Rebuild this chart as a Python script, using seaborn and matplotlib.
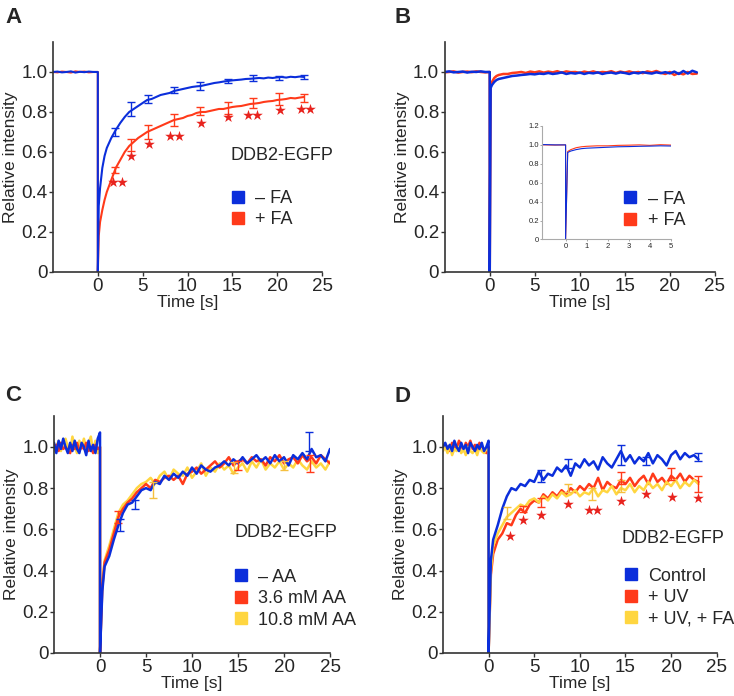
import numpy as np
import pandas as pd
import matplotlib
matplotlib.use('Agg')
import matplotlib.pyplot as plt
from matplotlib.lines import Line2D
import seaborn as sns

# colours
BLUE = '#0B2EDB'
RED = '#FF3A1A'
YELLOW = '#FFD640'
STAR = '#E8231E'

# ---------------- data: panel A / B (pre-bleach every 0.5 s) ----------------
t_ab_pre = np.arange(-5, 0.01, 0.5)
t_ab_post = np.concatenate([[0, 0.1, 0.25, 0.5, 0.75], np.arange(1, 23.01, 0.5)])

a_blue_pre = [1.0, 1.002, 0.998, 1.0, 1.003, 0.997, 1.001, 0.999, 1.002, 1.0, 1.0]
a_blue_post = [0.0, 0.33, 0.42, 0.52, 0.58,
               0.62, 0.67, 0.71, 0.745, 0.775, 0.80, 0.815, 0.83, 0.845, 0.86,
               0.865, 0.875, 0.885, 0.89, 0.895, 0.905, 0.91, 0.915, 0.92, 0.925,
               0.928, 0.93, 0.935, 0.94, 0.945, 0.948, 0.952, 0.955, 0.958, 0.96,
               0.962, 0.965, 0.966, 0.968, 0.97, 0.968, 0.972, 0.97, 0.973, 0.975,
               0.972, 0.976, 0.974, 0.977, 0.975]
a_red_pre = [1.0, 0.998, 1.002, 1.0, 0.997, 1.003, 1.0, 1.002, 0.998, 1.0, 1.0]
a_red_post = [0.0, 0.18, 0.25, 0.31, 0.36,
              0.40, 0.46, 0.52, 0.56, 0.60, 0.63, 0.65, 0.67, 0.685, 0.70,
              0.71, 0.72, 0.73, 0.74, 0.75, 0.76, 0.765, 0.77, 0.78, 0.785,
              0.795, 0.80, 0.80, 0.805, 0.81, 0.815, 0.815, 0.82, 0.825, 0.828,
              0.83, 0.835, 0.84, 0.842, 0.845, 0.85, 0.853, 0.855, 0.86, 0.862,
              0.865, 0.87, 0.868, 0.872, 0.875]

a_err_t = [1.9, 3.75, 5.6, 8.5, 11.4, 14.5, 17.3, 20.2, 23.0]
a_blue_err_y = [0.70, 0.815, 0.865, 0.91, 0.93, 0.955, 0.97, 0.97, 0.975]
a_blue_err = [0.02, 0.035, 0.02, 0.015, 0.02, 0.01, 0.015, 0.01, 0.008]
a_red_err_y = [0.51, 0.635, 0.70, 0.76, 0.805, 0.82, 0.845, 0.865, 0.87]
a_red_err = [0.015, 0.03, 0.035, 0.03, 0.02, 0.03, 0.025, 0.03, 0.02]

a_star_x = [1.71, 2.75, 3.68, 5.69, 8.1, 9.04, 11.46, 14.5, 16.8, 17.7, 20.3, 22.7, 23.7]
a_star_y = [0.449, 0.449, 0.578, 0.64, 0.68, 0.68, 0.743, 0.773, 0.786, 0.786, 0.81, 0.815, 0.815]

b_blue_pre = [1.0, 1.003, 0.998, 1.0, 1.002, 0.997, 1.001, 1.0, 1.003, 1.0, 1.0]
b_blue_post = [0.0, 0.92, 0.935, 0.95, 0.96,
               0.965, 0.97, 0.975, 0.98, 0.982, 0.985, 0.987, 0.99, 0.988, 0.992,
               0.99, 0.995, 0.99, 0.993, 0.998, 0.99, 0.995, 0.992, 0.997, 0.99,
               0.996, 0.993, 0.998, 0.99, 0.995, 0.997, 0.992, 0.998, 0.995, 0.99,
               0.997, 0.993, 0.999, 0.995, 0.992, 0.998, 0.994, 0.999, 0.993, 1.002,
               0.99, 1.005, 0.992, 1.006, 0.998]
b_red_pre = [0.998, 1.0, 1.003, 0.997, 1.0, 1.002, 0.999, 1.003, 1.0, 0.998, 1.0]
b_red_post = [0.0, 0.93, 0.95, 0.97, 0.98,
              0.985, 0.99, 0.99, 0.995, 0.997, 1.0, 0.995, 1.002, 0.998, 1.003,
              0.997, 1.002, 0.998, 1.004, 0.996, 1.003, 0.999, 1.0, 0.995, 1.002,
              0.997, 1.003, 0.996, 1.0, 0.998, 1.004, 0.995, 1.002, 0.997, 1.003,
              0.996, 1.0, 0.994, 1.003, 0.998, 1.005, 0.996, 0.99, 1.0, 0.985,
              0.995, 0.988, 1.0, 0.99, 0.992]

# ---------------- data: panel C ----------------
t_c_pre = np.arange(-5, 0.01, 0.25)
t_c_post = np.concatenate([[0, 0.25], np.arange(0.5, 25.01, 0.5)])

c_blue_pre = [1.02, 0.97, 1.03, 0.99, 1.04, 1.0, 0.97, 1.02, 0.98, 1.03, 0.99,
              0.97, 1.02, 1.0, 0.96, 1.03, 0.98, 1.01, 0.97, 1.04, 1.07]
c_red_pre = [1.0, 1.01, 0.98, 1.02, 0.99, 1.0, 0.98, 0.97, 1.01, 0.99, 1.02,
             0.98, 1.0, 0.99, 1.02, 0.98, 1.0, 0.97, 1.01, 0.99, 1.0]
c_yellow_pre = [0.98, 1.0, 1.03, 0.98, 1.02, 1.04, 1.0, 0.98, 1.05, 1.0, 0.97,
                1.03, 1.0, 1.04, 0.99, 1.02, 1.05, 0.98, 1.03, 0.97, 1.0]
c_blue_post = [0.0, 0.30,
               0.42, 0.47, 0.55, 0.62, 0.68, 0.72, 0.73, 0.76, 0.79, 0.80,
               0.79, 0.83, 0.82, 0.86, 0.84, 0.87, 0.85, 0.88, 0.86, 0.90,
               0.87, 0.91, 0.89, 0.88, 0.90, 0.91, 0.93, 0.91, 0.94, 0.92,
               0.95, 0.92, 0.94, 0.96, 0.93, 0.95, 0.92, 0.96, 0.93, 0.95,
               0.91, 0.96, 0.94, 0.97, 0.94, 0.99, 0.95, 0.96, 0.93, 0.99]
c_red_post = [0.0, 0.32,
              0.44, 0.50, 0.58, 0.66, 0.70, 0.73, 0.75, 0.78, 0.80, 0.82,
              0.80, 0.84, 0.83, 0.85, 0.86, 0.84, 0.86, 0.82, 0.87, 0.88,
              0.90, 0.87, 0.89, 0.91, 0.93, 0.90, 0.92, 0.95, 0.91, 0.93,
              0.94, 0.92, 0.95, 0.93, 0.94, 0.91, 0.95, 0.93, 0.96, 0.92,
              0.94, 0.95, 0.92, 0.96, 0.93, 0.95, 0.92, 0.96, 0.94, 0.92]
c_yellow_post = [0.0, 0.35,
                 0.45, 0.52, 0.60, 0.68, 0.72, 0.74, 0.77, 0.80, 0.82, 0.83,
                 0.85, 0.82, 0.86, 0.88, 0.84, 0.89, 0.87, 0.86, 0.90, 0.85,
                 0.88, 0.92, 0.86, 0.90, 0.88, 0.92, 0.89, 0.91, 0.87, 0.90,
                 0.92, 0.88, 0.93, 0.90, 0.94, 0.89, 0.92, 0.90, 0.93, 0.89,
                 0.92, 0.90, 0.94, 0.91, 0.89, 0.93, 0.90, 0.92, 0.89, 0.93]

c_blue_err_t, c_blue_err_y, c_blue_err = [2.2, 3.8, 22.7], [0.62, 0.72, 1.025], [0.03, 0.02, 0.045]
c_red_err_t, c_red_err_y, c_red_err = [2.0, 15.0, 22.8], [0.66, 0.91, 0.92], [0.03, 0.02, 0.04]
c_yel_err_t, c_yel_err_y, c_yel_err = [5.8, 14.6, 20.0], [0.79, 0.90, 0.91], [0.04, 0.025, 0.02]

# ---------------- data: panel D ----------------
t_d_pre = np.arange(-5, 0.01, 0.25)
t_d_post = np.concatenate([[0, 0.25], np.arange(0.5, 23.01, 0.5)])

d_blue_pre = [1.0, 1.02, 0.99, 1.01, 0.98, 1.03, 1.0, 0.98, 1.02, 0.99, 1.01,
              0.97, 1.02, 1.0, 0.98, 1.01, 0.99, 1.02, 0.98, 1.0, 1.03]
d_red_pre = [0.99, 1.01, 1.0, 0.98, 1.02, 1.0, 0.99, 1.03, 1.01, 0.98, 1.02,
             1.0, 1.03, 0.99, 1.01, 0.98, 1.02, 1.0, 0.99, 0.97, 1.0]
d_yellow_pre = [0.98, 1.0, 0.97, 1.01, 0.96, 0.99, 0.98, 1.0, 0.97, 0.99, 0.96,
                1.0, 0.98, 0.97, 0.99, 0.96, 1.0, 0.98, 0.97, 0.99, 0.98]
d_blue_post = [0.0, 0.45,
               0.55, 0.62, 0.70, 0.76, 0.80, 0.79, 0.82, 0.81, 0.84, 0.83,
               0.88, 0.84, 0.87, 0.86, 0.90, 0.88, 0.91, 0.86, 0.92, 0.90,
               0.94, 0.91, 0.93, 0.89, 0.95, 0.92, 0.90, 0.94, 0.98, 0.93,
               0.96, 0.92, 0.95, 0.93, 0.97, 0.92, 0.96, 0.94, 0.91, 0.96,
               0.98, 0.94, 0.97, 0.95, 0.96, 0.94]
d_red_post = [0.0, 0.38,
              0.48, 0.55, 0.58, 0.63, 0.62, 0.67, 0.70, 0.68, 0.72, 0.74,
              0.73, 0.77, 0.75, 0.78, 0.76, 0.79, 0.77, 0.80, 0.78, 0.81,
              0.79, 0.82, 0.80, 0.85, 0.79, 0.83, 0.81, 0.80, 0.84, 0.82,
              0.85, 0.81, 0.84, 0.86, 0.82, 0.87, 0.83, 0.85, 0.82, 0.86,
              0.84, 0.87, 0.83, 0.86, 0.84, 0.83]
d_yellow_post = [0.0, 0.40,
                 0.52, 0.58, 0.62, 0.66, 0.68, 0.70, 0.72, 0.71, 0.74, 0.75,
                 0.73, 0.76, 0.74, 0.77, 0.75, 0.78, 0.76, 0.77, 0.79, 0.76,
                 0.78, 0.77, 0.80, 0.76, 0.79, 0.78, 0.81, 0.77, 0.80, 0.79,
                 0.82, 0.78, 0.81, 0.79, 0.83, 0.80, 0.82, 0.79, 0.83, 0.81,
                 0.84, 0.80, 0.83, 0.81, 0.84, 0.82]

d_blue_err_t, d_blue_err_y, d_blue_err = [5.7, 8.7, 14.5, 17.3, 23.0], [0.86, 0.92, 0.96, 0.93, 0.95], [0.03, 0.02, 0.05, 0.02, 0.02]
d_red_err_t, d_red_err_y, d_red_err = [3.8, 5.7, 14.5, 20.0, 23.0], [0.70, 0.73, 0.85, 0.87, 0.82], [0.015, 0.02, 0.03, 0.03, 0.04]
d_yel_err_t, d_yel_err_y, d_yel_err = [2.0, 8.7, 11.3, 14.5], [0.68, 0.80, 0.77, 0.81], [0.03, 0.02, 0.03, 0.03]

d_star_x = [2.37, 3.79, 5.7, 8.72, 10.99, 11.9, 14.5, 17.3, 20.1, 22.96]
d_star_y = [0.57, 0.647, 0.668, 0.724, 0.696, 0.696, 0.737, 0.77, 0.757, 0.754]


def trace(t_pre, pre, t_post, post):
    t = np.concatenate([t_pre, t_post])
    y = np.concatenate([pre, post])
    return pd.DataFrame({'t': t, 'y': y})


def draw(ax, df, color, lw):
    sns.lineplot(data=df, x='t', y='y', ax=ax, color=color, linewidth=lw,
                 estimator=None, sort=False, legend=False)


def err(ax, t, y, e, color):
    ax.errorbar(t, y, yerr=e, fmt='none', ecolor=color, elinewidth=1.0,
                capsize=3, capthick=1.0, zorder=5)


def style_axes(ax):
    ax.set_xlim(-5, 25)
    ax.set_ylim(0, 1.15)
    ax.set_xticks([0, 5, 10, 15, 20, 25])
    ax.set_yticks([0, 0.2, 0.4, 0.6, 0.8, 1.0])
    ax.set_yticklabels(['0', '0.2', '0.4', '0.6', '0.8', '1.0'])
    ax.set_xlabel('Time [s]', fontsize=12.5, labelpad=0)
    ax.set_ylabel('Relative intensity', fontsize=12.5, labelpad=2)
    ax.tick_params(labelsize=13.5, length=3, width=1, color='#333333', pad=1)
    for s in ['top', 'right']:
        ax.spines[s].set_visible(False)
    for s in ['left', 'bottom']:
        ax.spines[s].set_color('#333333')
        ax.spines[s].set_linewidth(1.2)


def square_legend(target, labels, colors, anchor, transform):
    handles = [Line2D([], [], marker='s', ls='', color=c, markersize=9) for c in colors]
    target.legend(handles, labels, loc='upper left', bbox_to_anchor=anchor,
                  bbox_transform=transform, frameon=False, fontsize=13,
                  handlelength=0.8, handletextpad=0.55, labelspacing=0.25,
                  borderpad=0, borderaxespad=0)


sns.set_style('ticks')
plt.rcParams['font.family'] = ['Liberation Sans', 'DejaVu Sans']

fig = plt.figure(figsize=(7.34, 6.96), dpi=100)
axA = fig.add_axes([0.0722, 0.6092, 0.3665, 0.3305])
axB = fig.add_axes([0.6059, 0.6092, 0.368, 0.3305])
axC = fig.add_axes([0.0736, 0.0618, 0.376, 0.3405])
axD = fig.add_axes([0.6035, 0.0618, 0.373, 0.3405])

# ---- A ----
draw(axA, trace(t_ab_pre, a_red_pre, t_ab_post, a_red_post), RED, 1.5)
draw(axA, trace(t_ab_pre, a_blue_pre, t_ab_post, a_blue_post), BLUE, 1.5)
err(axA, a_err_t, a_blue_err_y, a_blue_err, BLUE)
err(axA, a_err_t, a_red_err_y, a_red_err, RED)
axA.scatter(a_star_x, a_star_y, marker='*', s=65, color=STAR, linewidths=0, zorder=6)
style_axes(axA)
axA.text(0.658, 0.505, 'DDB2-EGFP', transform=axA.transAxes, fontsize=13, va='center')
square_legend(axA, ['\u2013 FA', '+ FA'], [BLUE, RED], (0.66, 0.357), axA.transAxes)

# ---- B ----
dfB_red = trace(t_ab_pre, b_red_pre, t_ab_post, b_red_post)
dfB_blue = trace(t_ab_pre, b_blue_pre, t_ab_post, b_blue_post)
draw(axB, dfB_red, RED, 1.8)
draw(axB, dfB_blue, BLUE, 1.8)
style_axes(axB)
axB.text(0.64, 0.539, 'EGFP', transform=axB.transAxes, fontsize=13, va='center')

inset = fig.add_axes([0.739, 0.656, 0.175, 0.163])
draw(inset, dfB_red, RED, 0.8)
draw(inset, dfB_blue, BLUE, 0.8)
inset.set_xlim(-1.1, 5)
inset.set_ylim(0, 1.2)
inset.set_xticks([0, 1, 2, 3, 4, 5])
inset.set_yticks([0, 0.2, 0.4, 0.6, 0.8, 1.0, 1.2])
inset.set_yticklabels(['0', '0.2', '0.4', '0.6', '0.8', '1.0', '1.2'])
inset.set_xlabel('')
inset.set_ylabel('')
inset.tick_params(labelsize=5.5, length=1.5, width=0.6, color='#999999', pad=1)
for s in ['top', 'right']:
    inset.spines[s].set_visible(False)
for s in ['left', 'bottom']:
    inset.spines[s].set_color('#aaaaaa')
    inset.spines[s].set_linewidth(0.8)
square_legend(fig, ['\u2013 FA', '+ FA'], [BLUE, RED], (0.849, 0.726), fig.transFigure)

# ---- C ----
draw(axC, trace(t_c_pre, c_yellow_pre, t_c_post, c_yellow_post), YELLOW, 1.8)
draw(axC, trace(t_c_pre, c_red_pre, t_c_post, c_red_post), RED, 1.8)
draw(axC, trace(t_c_pre, c_blue_pre, t_c_post, c_blue_post), BLUE, 1.8)
err(axC, c_yel_err_t, c_yel_err_y, c_yel_err, '#F5C040')
err(axC, c_red_err_t, c_red_err_y, c_red_err, RED)
err(axC, c_blue_err_t, c_blue_err_y, c_blue_err, BLUE)
style_axes(axC)
axC.text(0.655, 0.508, 'DDB2-EGFP', transform=axC.transAxes, fontsize=13, va='center')
square_legend(axC, ['\u2013 AA', '3.6 mM AA', '10.8 mM AA'], [BLUE, RED, YELLOW],
              (0.652, 0.356), axC.transAxes)

# ---- D ----
draw(axD, trace(t_d_pre, d_red_pre, t_d_post, d_red_post), RED, 1.8)
draw(axD, trace(t_d_pre, d_yellow_pre, t_d_post, d_yellow_post), YELLOW, 1.8)
draw(axD, trace(t_d_pre, d_blue_pre, t_d_post, d_blue_post), BLUE, 1.8)
err(axD, d_yel_err_t, d_yel_err_y, d_yel_err, '#F5C040')
err(axD, d_red_err_t, d_red_err_y, d_red_err, RED)
err(axD, d_blue_err_t, d_blue_err_y, d_blue_err, BLUE)
axD.scatter(d_star_x, d_star_y, marker='*', s=65, color=STAR, linewidths=0, zorder=6)
style_axes(axD)
axD.text(0.653, 0.481, 'DDB2-EGFP', transform=axD.transAxes, fontsize=13, va='center')
square_legend(axD, ['Control', '+ UV', '+ UV, + FA'], [BLUE, RED, YELLOW],
              (0.66, 0.36), axD.transAxes)

# panel letters
for letter, x, y in [('A', 0.007, 0.99), ('B', 0.538, 0.99), ('C', 0.007, 0.447), ('D', 0.538, 0.446)]:
    fig.text(x, y, letter, fontsize=16, fontweight='bold', va='top', ha='left')

fig.savefig('out.png', dpi=100)
